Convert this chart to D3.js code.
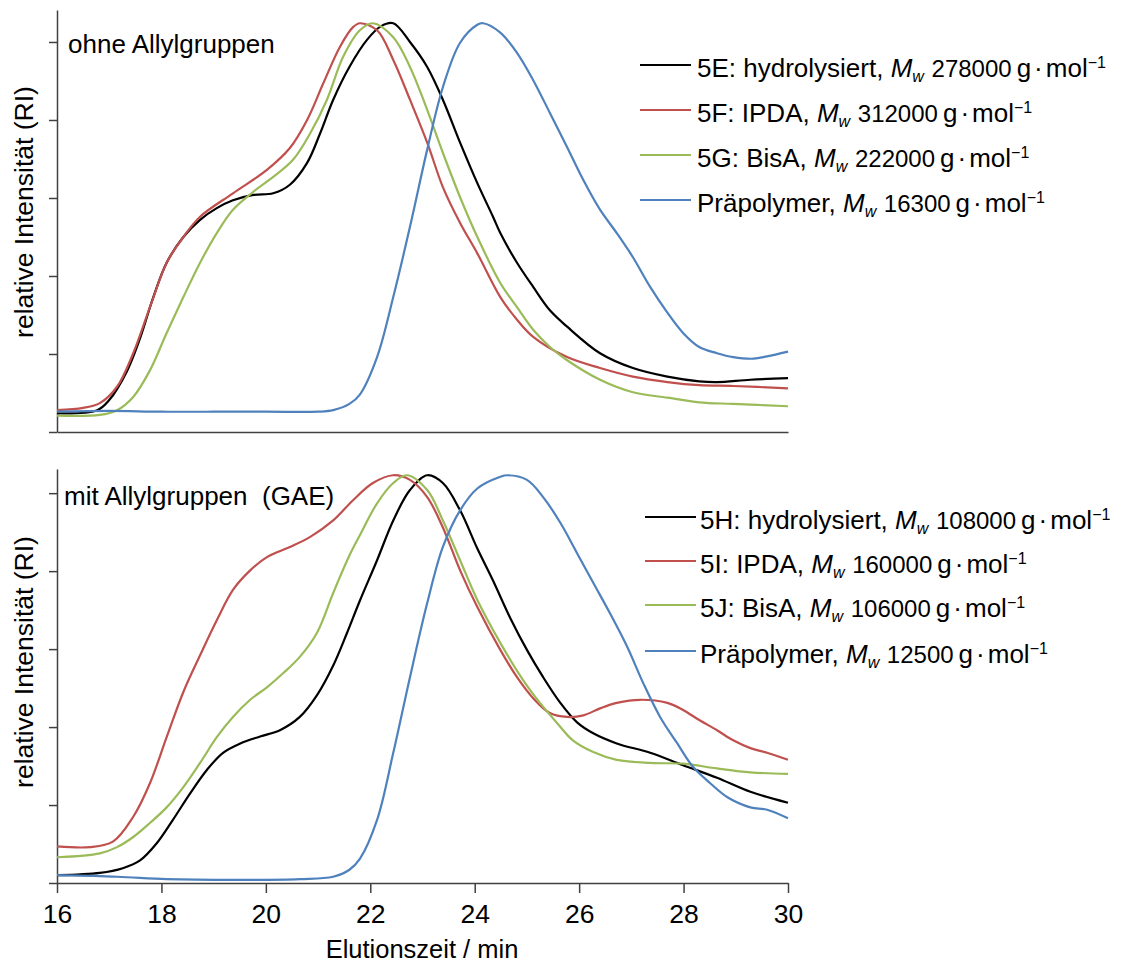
<!DOCTYPE html>
<html>
<head>
<meta charset="utf-8">
<script src="https://cdn.jsdelivr.net/npm/d3@7"></script>
<style>
  html, body { margin: 0; padding: 0; background: #fff; }
  svg { display: block; font-family: "Liberation Sans", Arial, sans-serif; }
  text { white-space: pre; }
</style>
</head>
<body>
<svg id="chart" width="1133" height="967"></svg>
<script>
// ---------- data ----------
const xTicks = [16, 18, 20, 22, 24, 26, 28, 30];
const yTicks = [0, 1, 2, 3, 4, 5];

// Top panel: ohne Allylgruppen
const topTitle = "ohne Allylgruppen";
const topLabels = ["5E: hydrolysiert, ", "5F: IPDA, ", "5G: BisA, ", "Präpolymer, "];
const topMw = ["278000", "312000", "222000", "16300"];

const x5E = [16, 16.77, 17.0, 17.34, 17.59, 17.84, 18.1, 18.42, 18.74, 19.06, 19.37, 19.76, 20.14, 20.46, 20.79, 21.04, 21.29, 21.6, 21.94, 22.2, 22.44, 22.76, 23.09, 23.39, 23.72, 24.05, 24.35, 24.49, 24.81, 25.12, 25.44, 25.77, 26.4, 27.03, 27.69, 28.3, 28.64, 29.28, 30];
const y5E = [0.24, 0.28, 0.41, 0.78, 1.2, 1.72, 2.17, 2.5, 2.72, 2.87, 2.97, 3.04, 3.06, 3.17, 3.45, 3.83, 4.26, 4.68, 5.03, 5.2, 5.24, 5.0, 4.68, 4.26, 3.71, 3.19, 2.76, 2.55, 2.17, 1.86, 1.56, 1.35, 1.01, 0.82, 0.71, 0.65, 0.64, 0.67, 0.69];

const x5F = [16, 16.5, 16.82, 17.15, 17.46, 17.78, 18.1, 18.42, 18.74, 19.37, 20.02, 20.46, 20.79, 21.1, 21.42, 21.67, 21.8, 22.13, 22.44, 22.76, 23.09, 23.39, 23.72, 24.05, 24.49, 24.81, 25.12, 25.77, 26.4, 27.03, 27.69, 28.3, 28.95, 30];
const y5F = [0.28, 0.31, 0.37, 0.58, 1.01, 1.6, 2.17, 2.5, 2.76, 3.06, 3.36, 3.64, 4.0, 4.47, 4.94, 5.19, 5.24, 5.15, 4.77, 4.26, 3.71, 3.14, 2.68, 2.29, 1.73, 1.44, 1.22, 0.96, 0.82, 0.71, 0.64, 0.6, 0.59, 0.56];

const x5G = [16, 16.82, 17.15, 17.46, 17.78, 18.1, 18.42, 18.74, 19.06, 19.37, 19.76, 20.14, 20.52, 20.85, 21.17, 21.48, 21.8, 22.05, 22.44, 22.76, 23.09, 23.39, 23.72, 24.05, 24.49, 24.81, 25.12, 25.44, 25.77, 26.4, 27.03, 27.69, 28.3, 28.95, 30];
const y5G = [0.21, 0.22, 0.28, 0.45, 0.79, 1.27, 1.73, 2.17, 2.55, 2.85, 3.08, 3.27, 3.49, 3.83, 4.26, 4.81, 5.15, 5.24, 5.06, 4.68, 4.13, 3.58, 3.01, 2.5, 1.91, 1.6, 1.31, 1.09, 0.92, 0.67, 0.51, 0.44, 0.38, 0.36, 0.33];

const xPreTop = [16, 17, 18, 19, 20, 21, 21.29, 21.6, 21.8, 22.13, 22.44, 22.76, 23.09, 23.39, 23.72, 24.05, 24.16, 24.49, 24.81, 25.12, 25.44, 25.77, 26.08, 26.4, 26.72, 27.03, 27.36, 27.69, 27.99, 28.3, 28.64, 28.95, 29.34, 29.6, 30];
const yPreTop = [0.26, 0.27, 0.26, 0.26, 0.26, 0.26, 0.28, 0.36, 0.48, 0.96, 1.73, 2.63, 3.62, 4.42, 4.99, 5.22, 5.24, 5.12, 4.86, 4.51, 4.09, 3.65, 3.23, 2.85, 2.55, 2.24, 1.86, 1.53, 1.27, 1.09, 1.01, 0.96, 0.94, 0.97, 1.03];

// Bottom panel: mit Allylgruppen (GAE)
const botTitle = "mit Allylgruppen  (GAE)";
const botLabels = ["5H: hydrolysiert, ", "5I: IPDA, ", "5J: BisA, ", "Präpolymer, "];
const botMw = ["108000", "160000", "106000", "12500"];

const x5H = [16, 16.82, 17.26, 17.59, 17.91, 18.22, 18.55, 18.87, 19.18, 19.51, 19.89, 20.27, 20.65, 20.98, 21.29, 21.55, 21.8, 22.13, 22.44, 22.76, 23.09, 23.39, 23.72, 24.05, 24.35, 24.68, 25.0, 25.31, 25.64, 25.96, 26.27, 26.72, 27.36, 27.99, 28.64, 29.28, 30];
const y5H = [0.10, 0.13, 0.19, 0.29, 0.51, 0.81, 1.15, 1.45, 1.67, 1.79, 1.88, 1.96, 2.13, 2.41, 2.79, 3.2, 3.62, 4.14, 4.65, 5.04, 5.23, 5.13, 4.78, 4.29, 3.88, 3.4, 2.99, 2.64, 2.31, 2.06, 1.92, 1.79, 1.67, 1.51, 1.35, 1.17, 1.03];

const x5I = [16, 16.63, 17.07, 17.46, 17.78, 18.1, 18.42, 18.74, 19.06, 19.37, 19.7, 20.02, 20.46, 20.85, 21.29, 21.67, 22.05, 22.44, 22.76, 23.09, 23.39, 23.72, 24.05, 24.49, 24.81, 25.12, 25.44, 25.77, 26.08, 26.4, 26.72, 27.17, 27.69, 27.99, 28.3, 28.64, 28.95, 29.28, 29.6, 30];
const y5I = [0.47, 0.46, 0.53, 0.85, 1.28, 1.87, 2.45, 2.92, 3.37, 3.76, 4.01, 4.18, 4.31, 4.44, 4.65, 4.91, 5.13, 5.23, 5.17, 4.95, 4.56, 4.01, 3.54, 2.99, 2.64, 2.37, 2.18, 2.13, 2.15, 2.24, 2.31, 2.35, 2.31, 2.22, 2.09, 1.96, 1.83, 1.73, 1.67, 1.58];

const x5J = [16, 16.82, 17.15, 17.46, 17.78, 18.1, 18.42, 18.74, 19.06, 19.37, 19.7, 20.02, 20.33, 20.65, 20.98, 21.29, 21.6, 21.8, 22.13, 22.44, 22.7, 23.09, 23.39, 23.72, 24.05, 24.49, 24.93, 25.25, 25.58, 25.88, 26.27, 26.72, 27.36, 27.99, 28.64, 29.28, 30];
const y5J = [0.33, 0.38, 0.46, 0.59, 0.77, 0.97, 1.23, 1.54, 1.87, 2.13, 2.35, 2.51, 2.69, 2.9, 3.21, 3.72, 4.2, 4.46, 4.87, 5.13, 5.23, 5.04, 4.65, 4.14, 3.63, 3.08, 2.6, 2.31, 2.05, 1.83, 1.68, 1.58, 1.54, 1.53, 1.47, 1.42, 1.4];

const xPreBot = [16, 17.15, 18.1, 19.37, 20.65, 21.29, 21.6, 21.8, 22.13, 22.44, 22.76, 23.09, 23.39, 23.72, 24.05, 24.49, 24.62, 25.0, 25.31, 25.64, 25.96, 26.27, 26.59, 26.92, 27.23, 27.55, 27.88, 28.18, 28.51, 28.84, 29.28, 29.6, 30];
const yPreBot = [0.10, 0.08, 0.05, 0.04, 0.05, 0.08, 0.17, 0.31, 0.81, 1.67, 2.64, 3.59, 4.31, 4.78, 5.06, 5.21, 5.23, 5.17, 4.95, 4.62, 4.23, 3.85, 3.46, 3.03, 2.56, 2.13, 1.79, 1.49, 1.28, 1.10, 0.97, 0.94, 0.83];

const colors = ["#000000", "#c0504d", "#9bbb59", "#4f81bd"];

// ---------- drawing ----------
const svg = d3.select("#chart");
const axisColor = "#404040";
const x = d3.scaleLinear().domain([16, 30]).range([57, 788]);

const panels = [
  { title: botTitle, titlePos: [64, 505], labels: botLabels, mw: botMw,
    series: [[x5H, y5H], [x5I, y5I], [x5J, y5J], [xPreBot, yPreBot]],
    y: d3.scaleLinear().domain([0, 5.31]).range([883, 469]),
    legX: 645, legTextX: 700, legY: [517, 561, 605, 651], showX: true, ylabelY: 662 },
  { title: topTitle, titlePos: [68, 53], labels: topLabels, mw: topMw,
    series: [[x5E, y5E], [x5F, y5F], [x5G, y5G], [xPreTop, yPreTop]],
    y: d3.scaleLinear().domain([0, 5.41]).range([432, 10]),
    legX: 640, legTextX: 697, legY: [65, 110, 155, 200], showX: false, ylabelY: 212 }
];

panels.forEach(p => {
  const g = svg.append("g");
  // y axis
  const yAxis = d3.axisLeft(p.y).tickValues(yTicks).tickFormat("").tickSizeOuter(0).tickSizeInner(8);
  const ya = g.append("g").attr("transform", "translate(57,0)").call(yAxis);
  ya.selectAll("path,line").attr("stroke", axisColor).attr("stroke-width", 1.5);
  // x axis
  const xAxis = d3.axisBottom(x).tickValues(xTicks).tickSizeOuter(0)
    .tickSizeInner(p.showX ? 10 : 0).tickFormat(p.showX ? d3.format("d") : "");
  const xa = g.append("g").attr("transform", `translate(0,${p.y(0)})`).call(xAxis);
  xa.selectAll("path,line").attr("stroke", axisColor).attr("stroke-width", 1.5);
  xa.selectAll("text").attr("font-size", 26.5).attr("fill", "#000")
    .attr("y", 0).attr("dy", 0).attr("transform", "translate(0,40)")
    .attr("font-family", "'Liberation Sans', Arial, sans-serif");
  // lines
  const line = d3.line().x(d => x(d[0])).y(d => p.y(d[1])).curve(d3.curveCatmullRom.alpha(0.5));
  p.series.forEach((s, i) => {
    const pts = s[0].map((xv, k) => [xv, s[1][k]]);
    g.append("path").datum(pts).attr("d", line).attr("fill", "none")
      .attr("stroke", colors[i]).attr("stroke-width", 2.2).attr("stroke-linejoin", "round");
  });
  // panel title
  g.append("text").attr("x", p.titlePos[0]).attr("y", p.titlePos[1])
    .attr("font-size", 26).text(p.title);
  // legend
  p.labels.forEach((lab, i) => {
    const yy = p.legY[i];
    g.append("line").attr("x1", p.legX).attr("x2", p.legX + 51).attr("y1", yy).attr("y2", yy)
      .attr("stroke", colors[i]).attr("stroke-width", 2.2);
    const t = g.append("text").attr("x", p.legTextX).attr("y", yy + 12).attr("font-size", 26);
    t.append("tspan").text(lab);
    t.append("tspan").attr("font-style", "italic").text("M");
    t.append("tspan").attr("font-style", "italic").attr("font-size", 16).attr("dy", 5).text("w");
    t.append("tspan").attr("dy", -5).attr("dx", 1).attr("font-size", 24).text(" " + p.mw[i]);
    t.append("tspan").attr("dx", 5).text("g");
    t.append("tspan").attr("dx", 3).text("·");
    t.append("tspan").attr("dx", 3).text("mol");
    t.append("tspan").attr("font-size", 16).attr("dy", -9).text("−1");
  });
  // y label
  g.append("text").attr("transform", `translate(33,${p.ylabelY}) rotate(-90)`)
    .attr("text-anchor", "middle").attr("font-size", 26.5).text("relative Intensität (RI)");
});

svg.append("text").attr("x", 422).attr("y", 958).attr("text-anchor", "middle")
  .attr("font-size", 25.5).text("Elutionszeit / min");
</script>
</body>
</html>
